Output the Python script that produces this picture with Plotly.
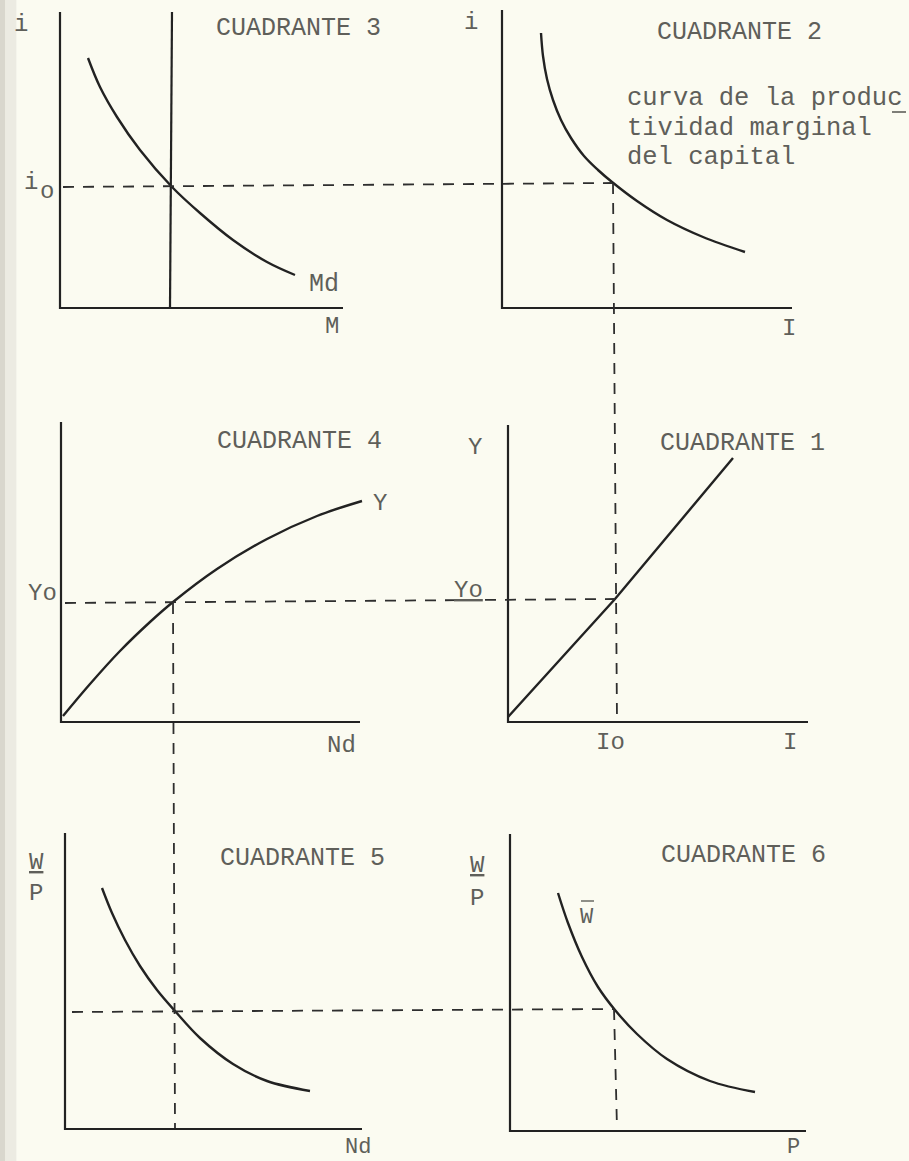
import plotly.graph_objects as go

# ---------------- data (page coordinates, y downward) ----------------
# Cuadrante 3 (money market)
c3_axis_x = [60, 60, 343]
c3_axis_y = [12, 308, 308]
c3_ms_x = [172, 170]
c3_ms_y = [12, 308]
c3_md_x = [88, 100, 117, 140, 172, 200, 233, 267, 295]
c3_md_y = [58, 87, 117, 150, 187, 213, 240, 262, 275]

# Cuadrante 2 (marginal productivity of capital)
c2_axis_x = [502, 502, 792]
c2_axis_y = [10, 308, 308]
c2_curve_x = [541, 543, 547, 553, 561, 571, 584, 598, 612, 637, 667, 703, 745]
c2_curve_y = [33, 56, 79, 100, 120, 138, 156, 170, 182, 201, 220, 237, 252]

# Cuadrante 4 (production function)
c4_axis_x = [61, 61, 360]
c4_axis_y = [422, 722, 722]
c4_curve_x = [63, 90, 120, 150, 173, 217, 267, 317, 362]
c4_curve_y = [716, 684, 651, 622, 602, 569, 539, 516, 501]

# Cuadrante 1 (Y vs I)
c1_axis_x = [508, 508, 808]
c1_axis_y = [425, 722, 722]
c1_line_x = [508, 615, 733]
c1_line_y = [717, 599, 458]

# Cuadrante 5 (labour demand)
c5_axis_x = [65, 65, 362]
c5_axis_y = [833, 1129, 1129]
c5_curve_x = [102, 112, 125, 140, 157, 175, 200, 233, 267, 310]
c5_curve_y = [888, 913, 940, 966, 990, 1011, 1038, 1064, 1081, 1091]

# Cuadrante 6 (W bar)
c6_axis_x = [510, 510, 806]
c6_axis_y = [834, 1131, 1131]
c6_curve_x = [558, 568, 582, 598, 615, 637, 667, 710, 755]
c6_curve_y = [893, 923, 957, 987, 1010, 1034, 1059, 1081, 1092]

# dashed guide lines
guide_i0_x = [63, 612]
guide_i0_y = [187, 183]
guide_I0_x = [613, 617]
guide_I0_y = [183, 722]
guide_Y0_x = [65, 615]
guide_Y0_y = [603, 599]
guide_N_x = [173, 175]
guide_N_y = [603, 1128]
guide_WP_x = [72, 614]
guide_WP_y = [1012, 1009]
guide_P_x = [614, 617]
guide_P_y = [1009, 1128]

# text labels: (text, x, y, size, anchor)
labels = [
    ("i", 21, 24, 24, "center"),
    ("i", 31, 182, 24, "center"),
    ("o", 47, 191, 24, "center"),
    ("CUADRANTE 3", 298, 28, 25, "center"),
    ("Md", 324, 284, 25, "center"),
    ("M", 332, 326, 24, "center"),
    ("i", 471, 22, 24, "center"),
    ("CUADRANTE 2", 739, 32, 25, "center"),
    ("curva de la produc", 625, 98, 25.5, "left"),
    ("tividad marginal", 625, 128, 25.5, "left"),
    ("del capital", 625, 157, 25.5, "left"),
    ("I", 789, 328, 24, "center"),
    ("CUADRANTE 4", 299, 441, 25, "center"),
    ("Y", 380, 503, 24, "center"),
    ("Yo", 42, 593, 24, "center"),
    ("Nd", 341, 745, 24, "center"),
    ("Y", 475, 447, 24, "center"),
    ("CUADRANTE 1", 742, 443, 25, "center"),
    ("<u>Yo</u>", 468, 590, 24, "center"),
    ("Io", 610, 742, 24, "center"),
    ("I", 790, 742, 24, "center"),
    ("<u>W</u>", 36, 862, 24, "center"),
    ("P", 36, 893, 24, "center"),
    ("CUADRANTE 5", 302, 858, 25, "center"),
    ("Nd", 358, 1147, 22, "center"),
    ("<u>W</u>", 477, 865, 24, "center"),
    ("P", 477, 898, 24, "center"),
    ("W", 587, 917, 22, "center"),
    ("CUADRANTE 6", 743, 855, 25, "center"),
    ("P", 793, 1147, 22, "center"),
]
wbar_x = [581, 594]
wbar_y = [901, 901]
hyphen_x = [892, 906]
hyphen_y = [112, 112]

# ---------------- figure ----------------
INK = "#222222"
DASH_INK = "#2e2e2e"
TXT = "#5f5f5a"
BG = "#fbfbf1"

fig = go.Figure()

def solid(x, y, w=2.2, shape="linear", color=INK):
    fig.add_trace(go.Scatter(x=x, y=y, mode="lines",
                             line=dict(color=color, width=w, shape=shape, smoothing=1.0),
                             hoverinfo="skip", showlegend=False))

def dashed(x, y):
    fig.add_trace(go.Scatter(x=x, y=y, mode="lines",
                             line=dict(color=DASH_INK, width=1.8, dash="11px,9px"),
                             hoverinfo="skip", showlegend=False))

for ax_x, ax_y in [(c3_axis_x, c3_axis_y), (c2_axis_x, c2_axis_y), (c4_axis_x, c4_axis_y),
                   (c1_axis_x, c1_axis_y), (c5_axis_x, c5_axis_y), (c6_axis_x, c6_axis_y)]:
    solid(ax_x, ax_y, w=2.2)

solid(c3_ms_x, c3_ms_y, w=2.2)
solid(c3_md_x, c3_md_y, w=2.4, shape="spline")
solid(c2_curve_x, c2_curve_y, w=2.4, shape="spline")
solid(c4_curve_x, c4_curve_y, w=2.4, shape="spline")
solid(c1_line_x, c1_line_y, w=2.4)
solid(c5_curve_x, c5_curve_y, w=2.4, shape="spline")
solid(c6_curve_x, c6_curve_y, w=2.4, shape="spline")

for gx, gy in [(guide_i0_x, guide_i0_y), (guide_I0_x, guide_I0_y), (guide_Y0_x, guide_Y0_y),
               (guide_N_x, guide_N_y), (guide_WP_x, guide_WP_y), (guide_P_x, guide_P_y)]:
    dashed(gx, gy)

solid(wbar_x, wbar_y, w=1.4, color=TXT)
solid(hyphen_x, hyphen_y, w=1.6, color=TXT)

for txt, x, y, size, anchor in labels:
    fig.add_annotation(x=x, y=y, text=txt, showarrow=False, xanchor=anchor, yanchor="middle",
                       font=dict(family="Liberation Mono, Courier New, monospace", size=size, color=TXT))

# scanned page: darker strip on left edge
fig.add_shape(type="rect", xref="paper", yref="paper", x0=0, x1=0.006, y0=0, y1=1,
              fillcolor="#d9d7cd", line_width=0, layer="below")
fig.add_shape(type="rect", xref="paper", yref="paper", x0=0.006, x1=0.018, y0=0, y1=1,
              fillcolor="#ecebe2", line_width=0, layer="below")

fig.update_layout(
    width=909, height=1161,
    margin=dict(l=0, r=0, t=0, b=0),
    paper_bgcolor=BG, plot_bgcolor="rgba(0,0,0,0)",
    xaxis=dict(range=[0, 909], visible=False, fixedrange=True),
    yaxis=dict(range=[1161, 0], visible=False, fixedrange=True),
    showlegend=False,
)

fig.write_html(
    "out.html",
    config={"displayModeBar": False},
    post_script="document.body.style.margin='0';document.body.style.padding='0';"
                "document.body.style.overflow='hidden';document.body.style.background='" + BG + "';",
)
